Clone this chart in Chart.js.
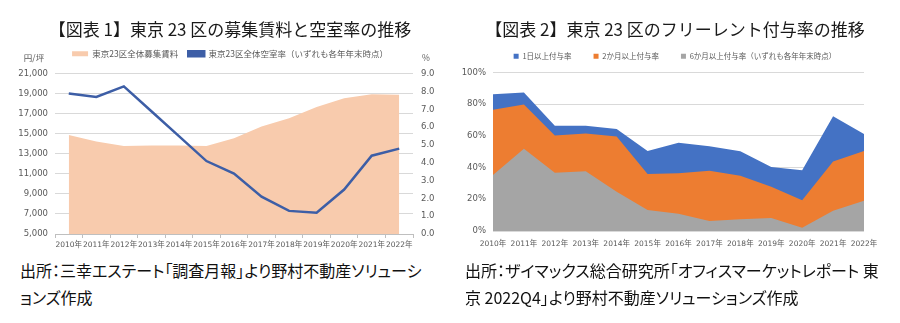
<!DOCTYPE html>
<html lang="ja">
<head>
<meta charset="utf-8">
<script src="https://cdn.jsdelivr.net/npm/chart.js@4.4.0/dist/chart.umd.min.js"></script>
<style>
  html, body { margin: 0; padding: 0; background: #fff; }
  #page { position: relative; width: 900px; height: 323px; overflow: hidden; }
  .box { position: absolute; top: 0; width: 450px; }
  .note {
    position: absolute; top: 257px;
    font-family: 'Noto Sans CJK JP', sans-serif; font-size: 16px; line-height: 27px;
    color: #111; white-space: nowrap; transform-origin: 0 0;
    font-feature-settings: "palt";
  }
</style>
</head>
<body>
<div id="page">
  <div class="box" style="left:0; height:254px"><canvas id="chart-rent"></canvas></div>
  <div class="box" style="left:450px; height:260px"><canvas id="chart-free"></canvas></div>
  <div class="note" style="left:20px">出所：三幸エステート「調査月報」より野村不動産ソリューシ<br>ョンズ作成</div>
  <div class="note" style="left:465px">出所：ザイマックス総合研究所「オフィスマーケットレポート 東<br>京 2022Q4」より野村不動産ソリューションズ作成</div>
</div>
<script>
// 年次ラベル
var years = ['2010年', '2011年', '2012年', '2013年', '2014年', '2015年', '2016年',
             '2017年', '2018年', '2019年', '2020年', '2021年', '2022年'];

// 図表1：募集賃料（円/坪）と空室率（%）
var rentYen    = [14900, 14250, 13800, 13850, 13850, 13800, 14560, 15750, 16570, 17700, 18570, 18970, 18910];
var vacancyPct = [7.9, 7.7, 8.3, 6.9, 5.5, 4.1, 3.4, 2.1, 1.3, 1.2, 2.5, 4.4, 4.8];

// 図表2：フリーレント付与率（%）
var free1Day   = [86.2, 87.3, 66.4, 66.4, 64.3, 50.5, 55.6, 53.5, 50.3, 40.4, 38.3, 72.3, 61.1];
var free2Month = [76.5, 79.7, 60.2, 61.5, 59.6, 35.9, 36.4, 38.0, 34.9, 27.9, 19.4, 43.8, 50.5];
var free6Month = [35.3, 51.8, 36.8, 37.6, 24.7, 13.3, 10.8, 6.3, 7.4, 8.2, 2.1, 12.7, 19.0];

var TICK_FONT = "'DejaVu Sans', 'Noto Sans CJK JP', sans-serif";
var JP_FONT = "'Noto Sans CJK JP', sans-serif";
var GREY_TEXT = '#595959';
var GRID = '#d9d9d9';

Chart.defaults.font.family = TICK_FONT;
Chart.defaults.color = GREY_TEXT;

// 凡例ボックスの高さを調整する（extra は負でも可）
var legendGap = {
  id: 'legendGap',
  beforeInit: function (chart, args, opts) {
    var legend = chart.legend;
    if (!legend) return;
    var fit = legend.fit;
    legend.fit = function () {
      fit.call(legend);
      legend.height += opts.extra || 0;
    };
  }
};

// 軸の単位（円/坪, %）
var axisUnits = {
  id: 'axisUnits',
  afterDraw: function (chart, args, opts) {
    var ctx = chart.ctx, area = chart.chartArea;
    ctx.save();
    ctx.font = '8.5px ' + JP_FONT;
    ctx.fillStyle = GREY_TEXT;
    ctx.textBaseline = 'middle';
    ctx.textAlign = 'center';
    ctx.fillText(opts.left, area.left - 21, area.top - 16);
    ctx.fillText(opts.right, area.right + 13, area.top - 16);
    ctx.restore();
  }
};

function titleOpts(text, bottomPad) {
  return {
    display: true, text: text, color: '#1a1a1a',
    font: { family: JP_FONT, size: 17, weight: 'normal', lineHeight: 1.2 },
    padding: { top: 19, bottom: bottomPad }
  };
}

new Chart(document.getElementById('chart-rent'), {
  type: 'line',
  data: {
    labels: years,
    datasets: [
      { label: '東京23区全体募集賃料', data: rentYen, yAxisID: 'y',
        fill: 'start', backgroundColor: '#f8cbad', borderColor: '#f8cbad', borderWidth: 0,
        pointRadius: 0, tension: 0 },
      { label: '東京23区全体空室率（いずれも各年年末時点）', data: vacancyPct, yAxisID: 'y2',
        fill: false, borderColor: '#3d5ea6', backgroundColor: '#3d5ea6', borderWidth: 2.5,
        pointRadius: 0, tension: 0 }
    ]
  },
  options: {
    responsive: true, maintainAspectRatio: false, animation: false,
    layout: { padding: { left: 10, right: 0, top: 0, bottom: 1 } },
    plugins: {
      title: titleOpts('【図表 1】東京 23 区の募集賃料と空室率の推移', 0),
      legend: {
        labels: { boxWidth: 16, boxHeight: 5, padding: 10, color: GREY_TEXT,
                  font: { family: JP_FONT, size: 8.5 } }
      },
      legendGap: { extra: 6 },
      axisUnits: { left: '円/坪', right: '%' },
      filler: { drawTime: 'beforeDatasetsDraw' },
      tooltip: { enabled: false }
    },
    scales: {
      x: {
        offset: true,
        grid: { offset: true, drawOnChartArea: false, drawTicks: true, tickLength: 4, color: '#bfbfbf' },
        border: { display: true, color: '#bfbfbf' },
        ticks: { font: { size: 7.5 }, maxRotation: 0, autoSkip: false, padding: 3 }
      },
      y: {
        position: 'left', min: 5000, max: 21000,
        afterFit: function (s) { s.width = 45; },
        grid: { color: GRID, drawTicks: false },
        border: { display: false },
        ticks: { stepSize: 2000, padding: 7, font: { size: 8.5 },
                 callback: function (v) { return v.toLocaleString('en-US'); } }
      },
      y2: {
        position: 'right', min: 0, max: 9,
        afterFit: function (s) { s.width = 37; },
        grid: { drawOnChartArea: false, drawTicks: false },
        border: { display: false },
        ticks: { stepSize: 1, padding: 8, font: { size: 8.5 },
                 callback: function (v) { return v.toFixed(1); } }
      }
    }
  },
  plugins: [legendGap, axisUnits]
});

// 重ね面グラフ：後ろの系列ほど手前に描かれるよう 6か月→2か月→1日 の順で登録
new Chart(document.getElementById('chart-free'), {
  type: 'line',
  data: {
    labels: years,
    datasets: [
      { label: '6か月以上付与率（いずれも各年年末時点）', data: free6Month,
        fill: 'origin', backgroundColor: '#a5a5a5', borderColor: '#a5a5a5', borderWidth: 0, pointRadius: 0 },
      { label: '2か月以上付与率', data: free2Month,
        fill: 'origin', backgroundColor: '#ed7d31', borderColor: '#ed7d31', borderWidth: 0, pointRadius: 0 },
      { label: '1日以上付与率', data: free1Day,
        fill: 'origin', backgroundColor: '#4472c4', borderColor: '#4472c4', borderWidth: 0, pointRadius: 0 }
    ]
  },
  options: {
    responsive: true, maintainAspectRatio: false, animation: false,
    layout: { padding: { left: 0, right: 0, top: 0, bottom: 2 } },
    plugins: {
      title: titleOpts('【図表 2】東京 23 区のフリーレント付与率の推移', -9),
      legend: {
        reverse: true,
        labels: { boxWidth: 5, boxHeight: 5, padding: 22, color: GREY_TEXT,
                  font: { family: JP_FONT, size: 7.5 } }
      },
      legendGap: { extra: 2.5 },
      tooltip: { enabled: false }
    },
    scales: {
      x: {
        offset: false,
        grid: { display: false, drawTicks: false },
        border: { display: false },
        ticks: { font: { size: 7.5 }, maxRotation: 0, autoSkip: false, padding: 9 }
      },
      y: {
        position: 'left', min: 0, max: 100,
        afterFit: function (s) { s.width = 43; },
        grid: { color: GRID, drawTicks: false },
        border: { display: false },
        ticks: { stepSize: 20, padding: 7, font: { size: 8.5 },
                 callback: function (v) { return v + '%'; } }
      },
      pad: {
        position: 'right', display: true,
        afterFit: function (s) { s.width = 36; },
        grid: { display: false }, border: { display: false }, ticks: { display: false }
      }
    }
  },
  plugins: [legendGap]
});
</script>
</body>
</html>
